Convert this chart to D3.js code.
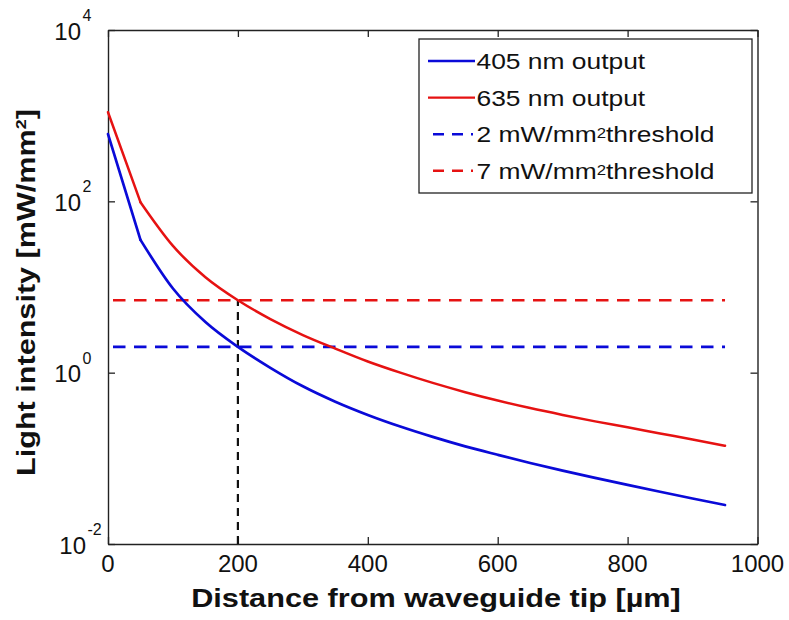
<!DOCTYPE html>
<html>
<head>
<meta charset="utf-8">
<script src="https://cdn.jsdelivr.net/npm/d3@7"></script>
<style>
  html, body { margin: 0; padding: 0; background: #fff; }
  svg { display: block; }
  text { font-family: "Liberation Sans", Arial, Helvetica, sans-serif; fill: #111; }
</style>
</head>
<body>
<svg id="chart" width="789" height="620"></svg>
<script>
// Distance from the waveguide tip (µm)
const distance = [0, 50, 100, 150, 200, 250, 300, 350, 400, 450, 500, 550, 600, 650, 700, 750, 800, 850, 900, 950];
// Light intensity (mW/mm²) for each wavelength
const out405 = [610, 35.5, 9.6, 3.9, 2.0, 1.14, 0.693, 0.458, 0.321, 0.235, 0.178, 0.138, 0.110, 0.0883, 0.0719, 0.0592, 0.0490, 0.0407, 0.0340, 0.0285];
const out635 = [1096, 97.7, 30.2, 13.0, 7.0, 4.22, 2.75, 1.91, 1.35, 1.0, 0.759, 0.592, 0.473, 0.386, 0.321, 0.270, 0.230, 0.195, 0.166, 0.140];
// Activation thresholds (mW/mm²)
const threshold405 = 2;
const threshold635 = 7;
// Depth where the 635 nm output drops to its threshold
const markerDistance = 200;

const xTicks = [0, 200, 400, 600, 800, 1000];
const yTickExponents = [-2, 0, 2, 4];

const seriesNames = ["405 nm output", "635 nm output"];
const thresholdLabels = ["2 mW/mm", "7 mW/mm"];

const BLUE = "#0a0ad8";
const RED = "#e61212";
const AXIS = "#222";

const svg = d3.select("#chart");
const plot = { left: 108, right: 757.5, top: 30, bottom: 544 };

const x = d3.scaleLinear().domain([0, 1000]).range([plot.left, plot.right]);
const y = d3.scaleLog().domain([1e-2, 1e4]).range([plot.bottom, plot.top]);

// Plot frame with inward ticks on all four sides
const tickLen = 7;
const xAxisBottom = d3.axisBottom(x).tickValues(xTicks).tickSizeInner(-tickLen).tickSizeOuter(0).tickFormat("");
const xAxisTop = d3.axisTop(x).tickValues(xTicks).tickSizeInner(-tickLen).tickSizeOuter(0).tickFormat("");
const yVals = yTickExponents.map(e => Math.pow(10, e));
const yAxisLeft = d3.axisLeft(y).tickValues(yVals).tickSizeInner(-tickLen).tickSizeOuter(0).tickFormat("");
const yAxisRight = d3.axisRight(y).tickValues(yVals).tickSizeInner(-tickLen).tickSizeOuter(0).tickFormat("");

function styleAxis(g) {
  g.selectAll("path").attr("stroke", AXIS).attr("stroke-width", 1.4);
  g.selectAll("line").attr("stroke", AXIS).attr("stroke-width", 1.3);
}
svg.append("g").attr("transform", `translate(0,${plot.bottom})`).call(xAxisBottom).call(styleAxis);
svg.append("g").attr("transform", `translate(0,${plot.top})`).call(xAxisTop).call(styleAxis);
svg.append("g").attr("transform", `translate(${plot.left},0)`).call(yAxisLeft).call(styleAxis);
svg.append("g").attr("transform", `translate(${plot.right},0)`).call(yAxisRight).call(styleAxis);

// x tick labels
svg.append("g").selectAll("text").data(xTicks).join("text")
  .attr("x", d => x(d)).attr("y", plot.bottom + 28)
  .attr("text-anchor", "middle").attr("font-size", 24)
  .text(d => d);

// y tick labels as 10 with a raised exponent
const yLab = svg.append("g").selectAll("g").data(yTickExponents).join("g")
  .attr("transform", d => `translate(${81 + (String(d).length - 1) * 5},${y(Math.pow(10, d))})`);
yLab.append("text").attr("x", 0).attr("y", 9.5).attr("text-anchor", "end").attr("font-size", 24).text("10");
yLab.append("text").attr("x", 1.5).attr("y", -9).attr("font-size", 16).text(d => String(d));

// Threshold lines
const flatLine = d3.line().x(d => x(d[0])).y(d => y(d[1]));
const tEnds = [distance[0], distance[distance.length - 1]];
[[threshold405, BLUE], [threshold635, RED]].forEach(([t, c]) => {
  svg.append("path")
    .attr("d", flatLine(tEnds.map(v => [v, t])))
    .attr("fill", "none").attr("stroke", c).attr("stroke-width", 2.6)
    .attr("stroke-dasharray", "12.5,8.5").attr("stroke-dashoffset", 16);
});

// Vertical marker at the threshold crossing depth
svg.append("path")
  .attr("d", flatLine([[markerDistance, 1e-2], [markerDistance, threshold635]]))
  .attr("fill", "none").attr("stroke", "#111").attr("stroke-width", 2.2)
  .attr("stroke-dasharray", "8,6");

// Output curves: straight drop from the tip, smooth decay beyond the first step
const pts = vals => vals.map((v, i) => [distance[i], v]);
const tipLine = d3.line().x(d => x(d[0])).y(d => y(d[1]));
const decayLine = d3.line().x(d => x(d[0])).y(d => y(d[1])).curve(d3.curveMonotoneX);
function drawSeries(vals, color, width) {
  const p = pts(vals);
  const g = svg.append("g").attr("fill", "none").attr("stroke", color)
    .attr("stroke-width", width).attr("stroke-linejoin", "round").attr("stroke-linecap", "round");
  g.append("path").attr("d", tipLine(p.slice(0, 2)));
  g.append("path").attr("d", decayLine(p.slice(1)));
}
drawSeries(out635, RED, 2.5);
drawSeries(out405, BLUE, 2.7);

// Legend
const lg = { x: 419, y: 39, w: 333, h: 154 };
svg.append("rect").attr("x", lg.x).attr("y", lg.y).attr("width", lg.w).attr("height", lg.h)
  .attr("fill", "#fff").attr("stroke", AXIS).attr("stroke-width", 1.3);

const legendItems = [
  { label: seriesNames[0], color: BLUE, dashed: false },
  { label: seriesNames[1], color: RED, dashed: false },
  { label: thresholdLabels[0], color: BLUE, dashed: true },
  { label: thresholdLabels[1], color: RED, dashed: true }
];
const rowH = 36.6;
legendItems.forEach((it, i) => {
  const cy = lg.y + 22 + i * rowH;
  if (it.dashed) {
    svg.append("line").attr("x1", lg.x + 14).attr("x2", lg.x + 54).attr("y1", cy).attr("y2", cy)
      .attr("stroke", it.color).attr("stroke-width", 2.4).attr("stroke-dasharray", "11,8");
  } else {
    svg.append("line").attr("x1", lg.x + 9).attr("x2", lg.x + 56).attr("y1", cy).attr("y2", cy)
      .attr("stroke", it.color).attr("stroke-width", 2.4);
  }
  const t = svg.append("text")
    .attr("transform", `translate(${lg.x + 57.5},${cy + 8}) scale(1.2,1)`)
    .attr("font-size", 22);
  t.append("tspan").text(it.label);
  if (it.dashed) {
    t.append("tspan").attr("font-size", 14).attr("dy", -4).text("2");
    t.append("tspan").attr("dy", 4).text("threshold");
  }
});

// Axis titles
svg.append("text")
  .attr("transform", `translate(436,607) scale(1.18,1)`)
  .attr("text-anchor", "middle").attr("font-size", 26).attr("font-weight", "bold")
  .text("Distance from waveguide tip [\u00b5m]");

const yTitle = svg.append("text")
  .attr("transform", `translate(35,292.5) rotate(-90) scale(1.2,1)`)
  .attr("text-anchor", "middle").attr("font-size", 25.5).attr("font-weight", "bold");
yTitle.append("tspan").text("Light intensity [mW/mm");
yTitle.append("tspan").attr("font-size", 15).attr("dy", -9).text("2");
yTitle.append("tspan").attr("dy", 9).text("]");
</script>
</body>
</html>
